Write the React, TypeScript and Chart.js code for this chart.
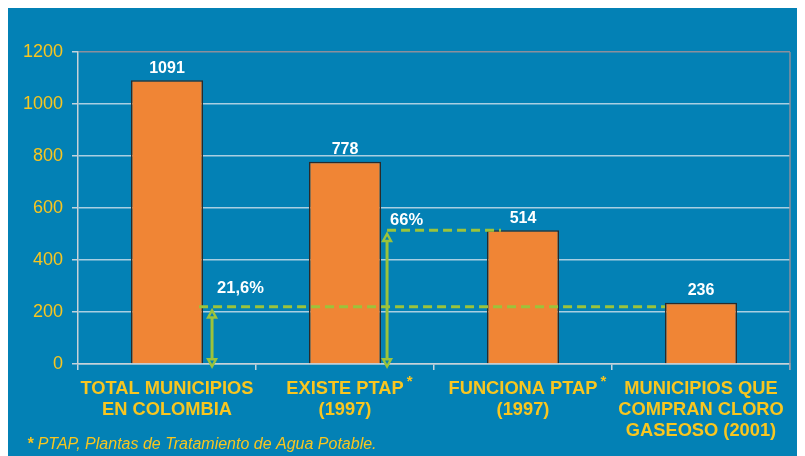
import React, { useEffect, useRef } from "react";
import { Chart, registerables } from "chart.js";

Chart.register(...registerables);

const categories: string[][] = [
  ["TOTAL MUNICIPIOS", "EN COLOMBIA"],
  ["EXISTE PTAP", "(1997)"],
  ["FUNCIONA PTAP", "(1997)"],
  ["MUNICIPIOS QUE", "COMPRAN CLORO", "GASEOSO (2001)"],
];
const values: number[] = [1091, 778, 514, 236];
const starred: boolean[] = [false, true, true, false];
const refValues: number[] = [220, 514];
const refLabels: string[] = ["21,6%", "66%"];
const footnoteStar = "*";
const footnoteText = " PTAP, Plantas de Tratamiento de Agua Potable.";
const yMin = 0;
const yMax = 1200;
const yStep = 200;

const FONT = '"Liberation Sans", Arial, sans-serif';
const BLUE = "#0381b5";
const YELLOW = "#f9c61f";
const GREEN = "#9cc33b";
const ORANGE = "#f08535";
const TICK_LEN = 6;
const X_PAD = 8;
const X_FONT = 18.3;
const X_LH = 21;

function arrowHead(ctx: CanvasRenderingContext2D, x: number, y: number, dir: number) {
  ctx.beginPath();
  ctx.moveTo(x, y);
  ctx.lineTo(x - 6, y - dir * 11);
  ctx.lineTo(x + 6, y - dir * 11);
  ctx.closePath();
  ctx.fill();
  ctx.fillStyle = BLUE;
  ctx.beginPath();
  ctx.moveTo(x, y - dir * 5);
  ctx.lineTo(x - 2, y - dir * 8.5);
  ctx.lineTo(x + 2, y - dir * 8.5);
  ctx.closePath();
  ctx.fill();
  ctx.fillStyle = GREEN;
}

const overlay = {
  id: "overlay",
  afterDatasetsDraw(chart: any) {
    const { ctx, chartArea, scales } = chart;
    const x = scales.x;
    const y = scales.y;
    const meta = chart.getDatasetMeta(0);
    ctx.save();
    ctx.strokeStyle = "#8c8f9c";
    ctx.lineWidth = 1.5;
    ctx.beginPath();
    ctx.moveTo(chartArea.right, chartArea.top);
    ctx.lineTo(chartArea.right, chartArea.bottom + TICK_LEN);
    ctx.stroke();

    ctx.fillStyle = "#ffffff";
    ctx.font = `bold 16px ${FONT}`;
    ctx.textAlign = "center";
    ctx.textBaseline = "middle";
    meta.data.forEach((el: any, i: number) => {
      ctx.fillText(String(values[i]), el.x, el.y - 12);
    });

    const half = meta.data[0].width / 2;
    const y0 = y.getPixelForValue(0);
    const c0 = x.getPixelForValue(0);
    const c1 = x.getPixelForValue(1);
    const c2 = x.getPixelForValue(2);
    const c3 = x.getPixelForValue(3);
    const r1 = y.getPixelForValue(refValues[0]);
    const r2 = y.getPixelForValue(refValues[1]);
    const a1 = c0 + half + 9;
    const a2 = c1 + half + 6;

    ctx.strokeStyle = GREEN;
    ctx.lineWidth = 3;
    ctx.setLineDash([9, 5]);
    ctx.beginPath();
    ctx.moveTo(c0 + half - 4, r1);
    ctx.lineTo(c3 - half, r1);
    ctx.moveTo(a2, r2);
    ctx.lineTo(c2 - half + 14, r2);
    ctx.stroke();
    ctx.setLineDash([]);

    ctx.lineWidth = 3;
    ctx.beginPath();
    ctx.moveTo(a1, r1 + 8);
    ctx.lineTo(a1, y0 - 4);
    ctx.moveTo(a2, r2 + 8);
    ctx.lineTo(a2, y0 - 4);
    ctx.stroke();
    ctx.fillStyle = GREEN;
    arrowHead(ctx, a1, r1 + 1, -1);
    arrowHead(ctx, a1, y0 + 5, 1);
    arrowHead(ctx, a2, r2 + 1, -1);
    arrowHead(ctx, a2, y0 + 5, 1);

    ctx.fillStyle = "#ffffff";
    ctx.font = `bold 16.5px ${FONT}`;
    ctx.textAlign = "left";
    ctx.textBaseline = "middle";
    ctx.fillText(refLabels[0], a1 + 5, r1 - 18);
    ctx.fillText(refLabels[1], a2 + 3, r2 - 10);

    ctx.fillStyle = YELLOW;
    const line1Y = chartArea.bottom + TICK_LEN + X_PAD + X_LH / 2;
    categories.forEach((lines, i) => {
      if (!starred[i]) return;
      ctx.font = `bold ${X_FONT}px ${FONT}`;
      const w = ctx.measureText(lines[0]).width;
      const cx = x.getPixelForValue(i);
      ctx.font = `bold 15px ${FONT}`;
      ctx.textAlign = "left";
      ctx.fillText("*", cx + w / 2 + 3, line1Y - 7);
    });

    ctx.textAlign = "left";
    ctx.textBaseline = "alphabetic";
    ctx.font = `italic bold 16px ${FONT}`;
    ctx.fillText(footnoteStar, 19, 441);
    const sw = ctx.measureText(footnoteStar).width;
    ctx.font = `italic 16px ${FONT}`;
    ctx.fillText(footnoteText, 19 + sw, 441);
    ctx.restore();
  },
};

export default function App() {
  const ref = useRef<HTMLCanvasElement | null>(null);
  useEffect(() => {
    document.documentElement.style.overflow = "hidden";
    const canvas = ref.current;
    if (!canvas) return;
    const chart = new Chart(canvas, {
      type: "bar",
      data: {
        labels: categories,
        datasets: [
          {
            data: values,
            backgroundColor: ORANGE,
            borderColor: "#2a2a2a",
            borderWidth: 1.5,
            barPercentage: 0.405,
            categoryPercentage: 1,
          },
        ],
      },
      options: {
        responsive: false,
        animation: false,
        maintainAspectRatio: false,
        layout: { padding: { left: 0, top: 44, right: 15, bottom: 0 } },
        plugins: { legend: { display: false }, tooltip: { enabled: false } },
        scales: {
          x: {
            afterFit: (s: any) => {
              s.height = 92;
            },
            grid: {
              drawOnChartArea: false,
              drawTicks: true,
              tickLength: TICK_LEN,
              color: "#c3d3dd",
              lineWidth: 1.5,
              offset: true,
            },
            border: { color: "#c8d2d8", width: 1.5 },
            ticks: {
              color: YELLOW,
              padding: X_PAD,
              maxRotation: 0,
              autoSkip: false,
              font: { family: FONT, size: X_FONT, weight: "bold", lineHeight: X_LH / X_FONT },
            },
          },
          y: {
            min: yMin,
            max: yMax,
            afterFit: (s: any) => {
              s.width = 70;
            },
            grid: {
              color: (c: any) => (c.tick && c.tick.value === yMax ? "#8c8f9c" : "#a9cfe2"),
              lineWidth: 1.5,
              tickLength: TICK_LEN,
              tickColor: "#c3d3dd",
            },
            border: { color: "#c8d2d8", width: 1.5 },
            ticks: {
              stepSize: yStep,
              color: YELLOW,
              padding: 9,
              font: { family: FONT, size: 18 },
              callback: (v: any) => String(v),
            },
          },
        },
      },
      plugins: [overlay],
    } as any);
    return () => chart.destroy();
  }, []);
  return (
    <div style={{ width: 797, height: 448, background: BLUE }}>
      <canvas ref={ref} width={797} height={448} style={{ display: "block" }} />
    </div>
  );
}
